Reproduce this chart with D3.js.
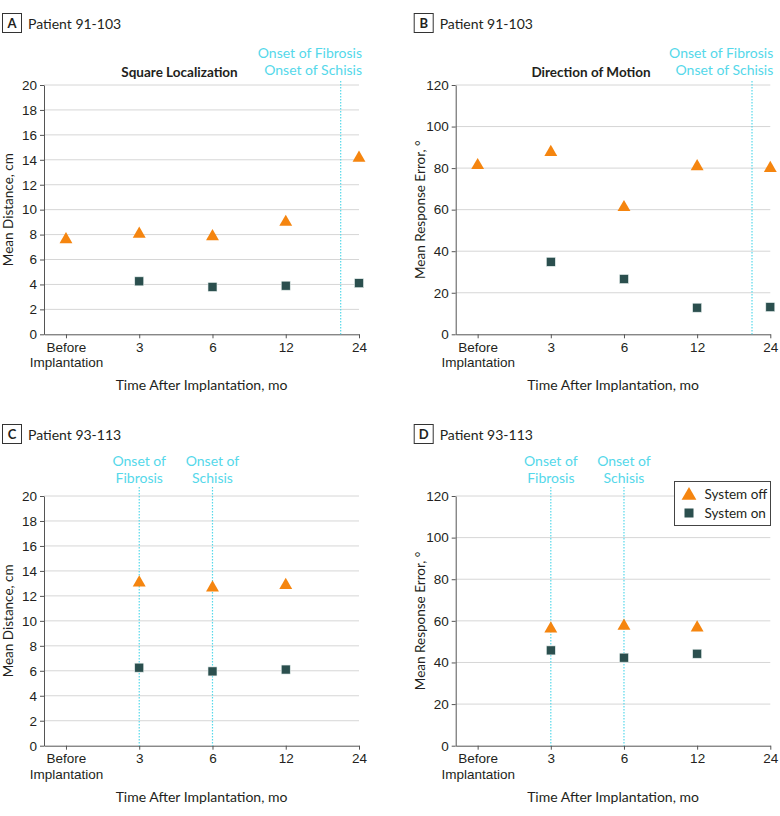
<!DOCTYPE html>
<html><head><meta charset="utf-8">
<script src="https://cdn.jsdelivr.net/npm/d3@7"></script>
<style>body{margin:0;background:#fff}svg{display:block;font-family:Lato,"Liberation Sans",sans-serif}</style>
</head><body><svg id="c" width="780" height="816"></svg>
<script>
const categories = ["Before\nImplantation", "3", "6", "12", "24"];
const distanceTicks = [0, 2, 4, 6, 8, 10, 12, 14, 16, 18, 20];
const errorTicks = [0, 20, 40, 60, 80, 100, 120];

// Panel A: Patient 91-103, Square Localization (cm)
const aOff = [7.6, 8.05, 7.85, 9.0, 14.15];
const aOn = [null, 4.25, 3.8, 3.9, 4.1];
// Panel B: Patient 91-103, Direction of Motion (deg)
const bOff = [81.3, 87.6, 61.1, 80.8, 79.9];
const bOn = [null, 34.9, 26.6, 12.8, 13.1];
// Panel C: Patient 93-113 (cm)
const cOff = [null, 13.05, 12.65, 12.85, null];
const cOn = [null, 6.25, 5.95, 6.1, null];
// Panel D: Patient 93-113 (deg)
const dOff = [null, 56.2, 57.5, 56.7, null];
const dOn = [null, 45.8, 42.3, 44.2, null];

const panels = [
  {letter:"A", patient:"Patient 91-103", title:"Square Localization", ylab:"Mean Distance, cm", ticks:distanceTicks, ymax:20, off:aOff, on:aOn,
   left:44, right:359, top:85, bottom:334.3, hy:0, onset:[{x:3.75, lines:["Onset of Fibrosis","Onset of Schisis"], anchor:"end"}]},
  {letter:"B", patient:"Patient 91-103", title:"Direction of Motion", ylab:"Mean Response Error, °", ticks:errorTicks, ymax:120, off:bOff, on:bOn,
   left:455.7, right:770.3, top:85, bottom:334.3, hy:0, onset:[{x:3.75, lines:["Onset of Fibrosis","Onset of Schisis"], anchor:"end"}]},
  {letter:"C", patient:"Patient 93-113", title:null, ylab:"Mean Distance, cm", ticks:distanceTicks, ymax:20, off:cOff, on:cOn,
   left:44, right:359, top:496, bottom:745.7, hy:411, onset:[{x:1, lines:["Onset of","Fibrosis"], anchor:"middle"},{x:2, lines:["Onset of","Schisis"], anchor:"middle"}]},
  {letter:"D", patient:"Patient 93-113", title:null, ylab:"Mean Response Error, °", ticks:errorTicks, ymax:120, off:dOff, on:dOn,
   left:455.7, right:770.3, top:496, bottom:745.7, hy:411, onset:[{x:1, lines:["Onset of","Fibrosis"], anchor:"middle"},{x:2, lines:["Onset of","Schisis"], anchor:"middle"}], legend:true}
];

const svg = d3.select("#c");
const ORANGE = "#f5850f", TEAL = "#2b4f4e", CYAN = "#55d8ea", TXT = "#231f20", AX = "#555";
const tri = d3.symbol().type(d3.symbolTriangle).size(72);

panels.forEach(p => {
  const g = svg.append("g");
  const x = d3.scaleLinear().domain([-0.3, 4]).range([p.left, p.right]);
  const y = d3.scaleLinear().domain([0, p.ymax]).range([p.bottom, p.top]);
  const bx = p.left - 43;
  const hy = p.hy;
  // header
  g.append("rect").attr("x", bx + 1.5).attr("y", hy + 13.5).attr("width", 19).attr("height", 19)
    .attr("fill", "#fff").attr("stroke", "#333").attr("stroke-width", 1);
  g.append("text").attr("x", bx + 11).attr("y", hy + 28).attr("text-anchor", "middle")
    .attr("font-size", 13).attr("font-weight", "bold").attr("fill", TXT).text(p.letter);
  g.append("text").attr("x", bx + 27).attr("y", hy + 28.5).attr("font-size", 14).attr("fill", TXT).text(p.patient);
  if (p.title) g.append("text").attr("x", (p.left + p.right) / 2 - 22).attr("y", p.top - 8)
    .attr("text-anchor", "middle").attr("font-size", 13.5).attr("font-weight", "bold").attr("fill", TXT).text(p.title);

  // gridlines
  g.selectAll(".grid").data(p.ticks.filter(t => t > 0)).join("line")
    .attr("x1", p.left).attr("x2", p.right).attr("y1", d => y(d)).attr("y2", d => y(d))
    .attr("stroke", "#d6d6d6").attr("stroke-width", 1);

  // y axis
  const ya = g.append("g").attr("transform", `translate(${p.left},0)`)
    .call(d3.axisLeft(y).tickValues(p.ticks).tickSize(4).tickPadding(3).tickSizeOuter(0));
  ya.selectAll("text").attr("font-size", 13.5).attr("fill", TXT).attr("font-family", null);
  ya.selectAll("line,path").attr("stroke", AX);

  // x axis
  const xa = g.append("g").attr("transform", `translate(0,${p.bottom})`)
    .call(d3.axisBottom(x).tickValues([0,1,2,3,4]).tickSize(4).tickSizeOuter(0).tickFormat(i => categories[i]));
  xa.selectAll("line,path").attr("stroke", AX);
  xa.selectAll(".tick text").each(function(i) {
    const t = d3.select(this); const parts = categories[i].split("\n");
    t.text(null).attr("font-size", 13.5).attr("fill", TXT).attr("font-family", null);
    parts.forEach((s, k) => t.append("tspan").attr("x", 0).attr("dy", k === 0 ? "0.71em" : "1.15em").text(s));
  });
  xa.selectAll(".tick text").attr("y", 8);

  // axis titles
  g.append("text").attr("x", (p.left + p.right) / 2).attr("y", p.bottom + 56)
    .attr("text-anchor", "middle").attr("font-size", 14).attr("fill", TXT).text("Time After Implantation, mo");
  const ylx = p.left - 31;
  g.append("text").attr("transform", `translate(${ylx},${(p.top + p.bottom) / 2}) rotate(-90)`)
    .attr("text-anchor", "middle").attr("font-size", 13.5).attr("fill", TXT).text(p.ylab);

  // onset lines
  p.onset.forEach(o => {
    const xx = x(o.x);
    const lineTop = p.title ? p.top - 4 : p.top - 9;
    g.append("line").attr("x1", xx).attr("x2", xx).attr("y1", lineTop).attr("y2", p.bottom)
      .attr("stroke", CYAN).attr("stroke-width", 1.2).attr("stroke-dasharray", "1.5,1.5");
    const tx = o.anchor === "end" ? p.right + 3 : xx;
    const baseY = o.anchor === "end" ? p.top - 27 : p.top - 30;
    o.lines.forEach((s, k) => g.append("text").attr("x", tx).attr("y", baseY + k * 16.5)
      .attr("text-anchor", o.anchor).attr("font-size", 14).attr("fill", CYAN).text(s));
  });

  // points
  const onPts = p.on.map((v, i) => ({i, v})).filter(d => d.v != null);
  const offPts = p.off.map((v, i) => ({i, v})).filter(d => d.v != null);
  g.selectAll(".sq").data(onPts).join("rect")
    .attr("x", d => x(d.i) - 4.5).attr("y", d => y(d.v) - 4.5).attr("width", 9).attr("height", 9)
    .attr("fill", TEAL).attr("stroke", "#e8f0ef").attr("stroke-width", 0.6);
  g.selectAll(".tri").data(offPts).join("path")
    .attr("d", tri).attr("transform", d => `translate(${x(d.i)},${y(d.v)})`).attr("fill", ORANGE);

  if (p.legend) {
    const lx = 674.5, ly = 481.5;
    g.append("rect").attr("x", lx).attr("y", ly).attr("width", 96).attr("height", 44)
      .attr("fill", "#fff").attr("stroke", "#444").attr("stroke-width", 1);
    g.append("path").attr("d", d3.symbol().type(d3.symbolTriangle).size(95)).attr("transform", `translate(${lx + 14.5},${ly + 14})`).attr("fill", ORANGE);
    g.append("rect").attr("x", lx + 10).attr("y", ly + 27).attr("width", 9).attr("height", 9).attr("fill", TEAL);
    g.append("text").attr("x", lx + 30).attr("y", ly + 17.5).attr("font-size", 13.5).attr("fill", TXT).text("System off");
    g.append("text").attr("x", lx + 30).attr("y", ly + 36).attr("font-size", 13.5).attr("fill", TXT).text("System on");
  }
});
</script></body></html>
